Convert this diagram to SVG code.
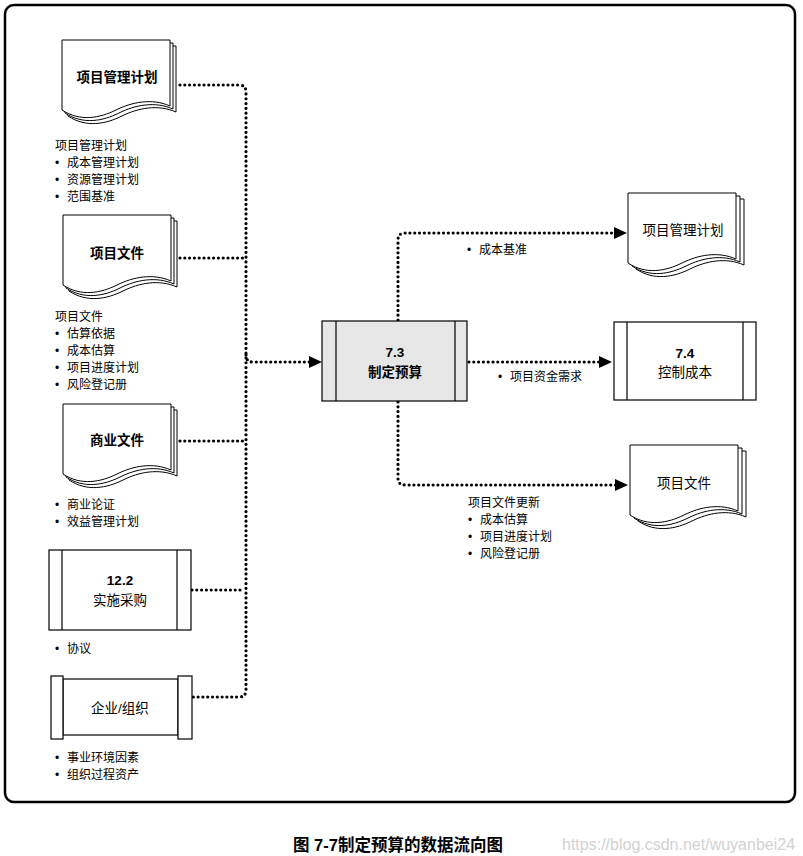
<svg xmlns="http://www.w3.org/2000/svg" xmlns:xlink="http://www.w3.org/1999/xlink" width="803" height="856" viewBox="0 0 803 856">
<style>
text{font-family:"Liberation Sans","Noto Sans CJK SC",sans-serif;fill:#000}
.t{font-size:13.5px;font-weight:bold;text-anchor:middle;dominant-baseline:central}
.n{font-weight:normal}
.l{font-size:12px;dominant-baseline:central}
.pg{fill:#fff;stroke:#000;stroke-width:1}
.box{fill:#fff;stroke:#000;stroke-width:1.2}
.bar{fill:none;stroke:#000;stroke-width:1.2}
.c{fill:none;stroke:#000;stroke-width:3.2;stroke-linecap:round;stroke-dasharray:0 4.8}
.tip{fill:#000}
</style>
<defs>
<path id="page" d="M0,0 H108 V66 C90,58 70,62 54,70 C38,78 18,82 0,70 Z"/>
<path id="tip" d="M-13,-6 L0,0 L-13,6 Z"/>
</defs>
<rect x="5" y="5" width="790" height="797" rx="9" fill="#fff" stroke="#000" stroke-width="2.5"/>

<g id="connectors">
<path class="c" d="M180,85 H239 Q246,85 246,92 V690 Q246,697 239,697 H193"/>
<path class="c" d="M180,258 H244"/>
<path class="c" d="M180,441 H244"/>
<path class="c" d="M192,590 H244"/>
<path class="c" d="M246,355 Q246,362 253,362 H310"/>
<path class="c" d="M398,320 V240 Q398,233 405,233 H615"/>
<path class="c" d="M469,362 H600"/>
<path class="c" d="M398,402 V478 Q398,485 405,485 H616"/>
<use xlink:href="#tip" href="#tip" class="tip" x="322" y="362"/>
<use xlink:href="#tip" href="#tip" class="tip" x="627" y="233"/>
<use xlink:href="#tip" href="#tip" class="tip" x="612" y="362"/>
<use xlink:href="#tip" href="#tip" class="tip" x="628" y="485"/>
</g>

<g id="doc-pmp-in" transform="translate(62,40)">
<use xlink:href="#page" href="#page" class="pg" x="6" y="6"/>
<use xlink:href="#page" href="#page" class="pg" x="3" y="3"/>
<use xlink:href="#page" href="#page" class="pg"/>
<text class="t" x="55" y="37">项目管理计划</text>
</g>
<g id="doc-pd-in" transform="translate(63,215)">
<use xlink:href="#page" href="#page" class="pg" x="6" y="6"/>
<use xlink:href="#page" href="#page" class="pg" x="3" y="3"/>
<use xlink:href="#page" href="#page" class="pg"/>
<text class="t" x="54" y="38">项目文件</text>
</g>
<g id="doc-bd-in" transform="translate(63,404)">
<use xlink:href="#page" href="#page" class="pg" x="6" y="6"/>
<use xlink:href="#page" href="#page" class="pg" x="3" y="3"/>
<use xlink:href="#page" href="#page" class="pg"/>
<text class="t" x="54" y="36">商业文件</text>
</g>
<g id="proc-12-2">
<rect class="box" x="49" y="550" width="142" height="80"/>
<path class="bar" d="M62,550 V630 M177,550 V630"/>
<text class="t" x="120" y="580">12.2</text>
<text class="t n" x="120" y="600">实施采购</text>
</g>
<g id="enterprise">
<rect class="box" x="63" y="679" width="115" height="56"/>
<rect class="box" x="51" y="676" width="12" height="63"/>
<rect class="box" x="178" y="676" width="14" height="63"/>
<text class="t n" x="120" y="708">企业/组织</text>
</g>
<g id="proc-7-3">
<rect x="322" y="321" width="145" height="80" fill="#e6e6e6" stroke="#000" stroke-width="1.2"/>
<path class="bar" d="M336,321 V401 M455,321 V401"/>
<text class="t" x="395" y="352">7.3</text>
<text class="t" x="395" y="372">制定预算</text>
</g>
<g id="proc-7-4">
<rect class="box" x="614" y="322" width="142" height="78"/>
<path class="bar" d="M627,322 V400 M743,322 V400"/>
<text class="t" x="685" y="353">7.4</text>
<text class="t n" x="685" y="372">控制成本</text>
</g>
<g id="doc-pmp-out" transform="translate(628,193)">
<use xlink:href="#page" href="#page" class="pg" x="8" y="6"/>
<use xlink:href="#page" href="#page" class="pg" x="4" y="3"/>
<use xlink:href="#page" href="#page" class="pg"/>
<text class="t n" x="55" y="37">项目管理计划</text>
</g>
<g id="doc-pd-out" transform="translate(630,445)">
<use xlink:href="#page" href="#page" class="pg" x="8" y="6"/>
<use xlink:href="#page" href="#page" class="pg" x="4" y="3"/>
<use xlink:href="#page" href="#page" class="pg"/>
<text class="t n" x="54" y="38">项目文件</text>
</g>

<g id="labels">
<text class="l" x="55" y="146">项目管理计划</text>
<text class="l" x="55" y="163">•<tspan x="67">成本管理计划</tspan></text>
<text class="l" x="55" y="180">•<tspan x="67">资源管理计划</tspan></text>
<text class="l" x="55" y="197">•<tspan x="67">范围基准</tspan></text>
<text class="l" x="55" y="317">项目文件</text>
<text class="l" x="55" y="334">•<tspan x="67">估算依据</tspan></text>
<text class="l" x="55" y="351">•<tspan x="67">成本估算</tspan></text>
<text class="l" x="55" y="368">•<tspan x="67">项目进度计划</tspan></text>
<text class="l" x="55" y="385">•<tspan x="67">风险登记册</tspan></text>
<text class="l" x="55" y="505">•<tspan x="67">商业论证</tspan></text>
<text class="l" x="55" y="522">•<tspan x="67">效益管理计划</tspan></text>
<text class="l" x="55" y="649">•<tspan x="67">协议</tspan></text>
<text class="l" x="55" y="758">•<tspan x="67">事业环境因素</tspan></text>
<text class="l" x="55" y="775">•<tspan x="67">组织过程资产</tspan></text>
<text class="l" x="467" y="250">•<tspan x="479">成本基准</tspan></text>
<text class="l" x="498" y="377">•<tspan x="510">项目资金需求</tspan></text>
<text class="l" x="468" y="503">项目文件更新</text>
<text class="l" x="468" y="520">•<tspan x="480">成本估算</tspan></text>
<text class="l" x="468" y="537">•<tspan x="480">项目进度计划</tspan></text>
<text class="l" x="468" y="554">•<tspan x="480">风险登记册</tspan></text>
</g>

<text x="293" y="851" style="font-size:16.5px;font-weight:bold">图 7-7制定预算的数据流向图</text>
<text x="562" y="850" style="font-size:16px;fill:#d2d2d2">https://blog.csdn.net/wuyanbei24</text>
</svg>
